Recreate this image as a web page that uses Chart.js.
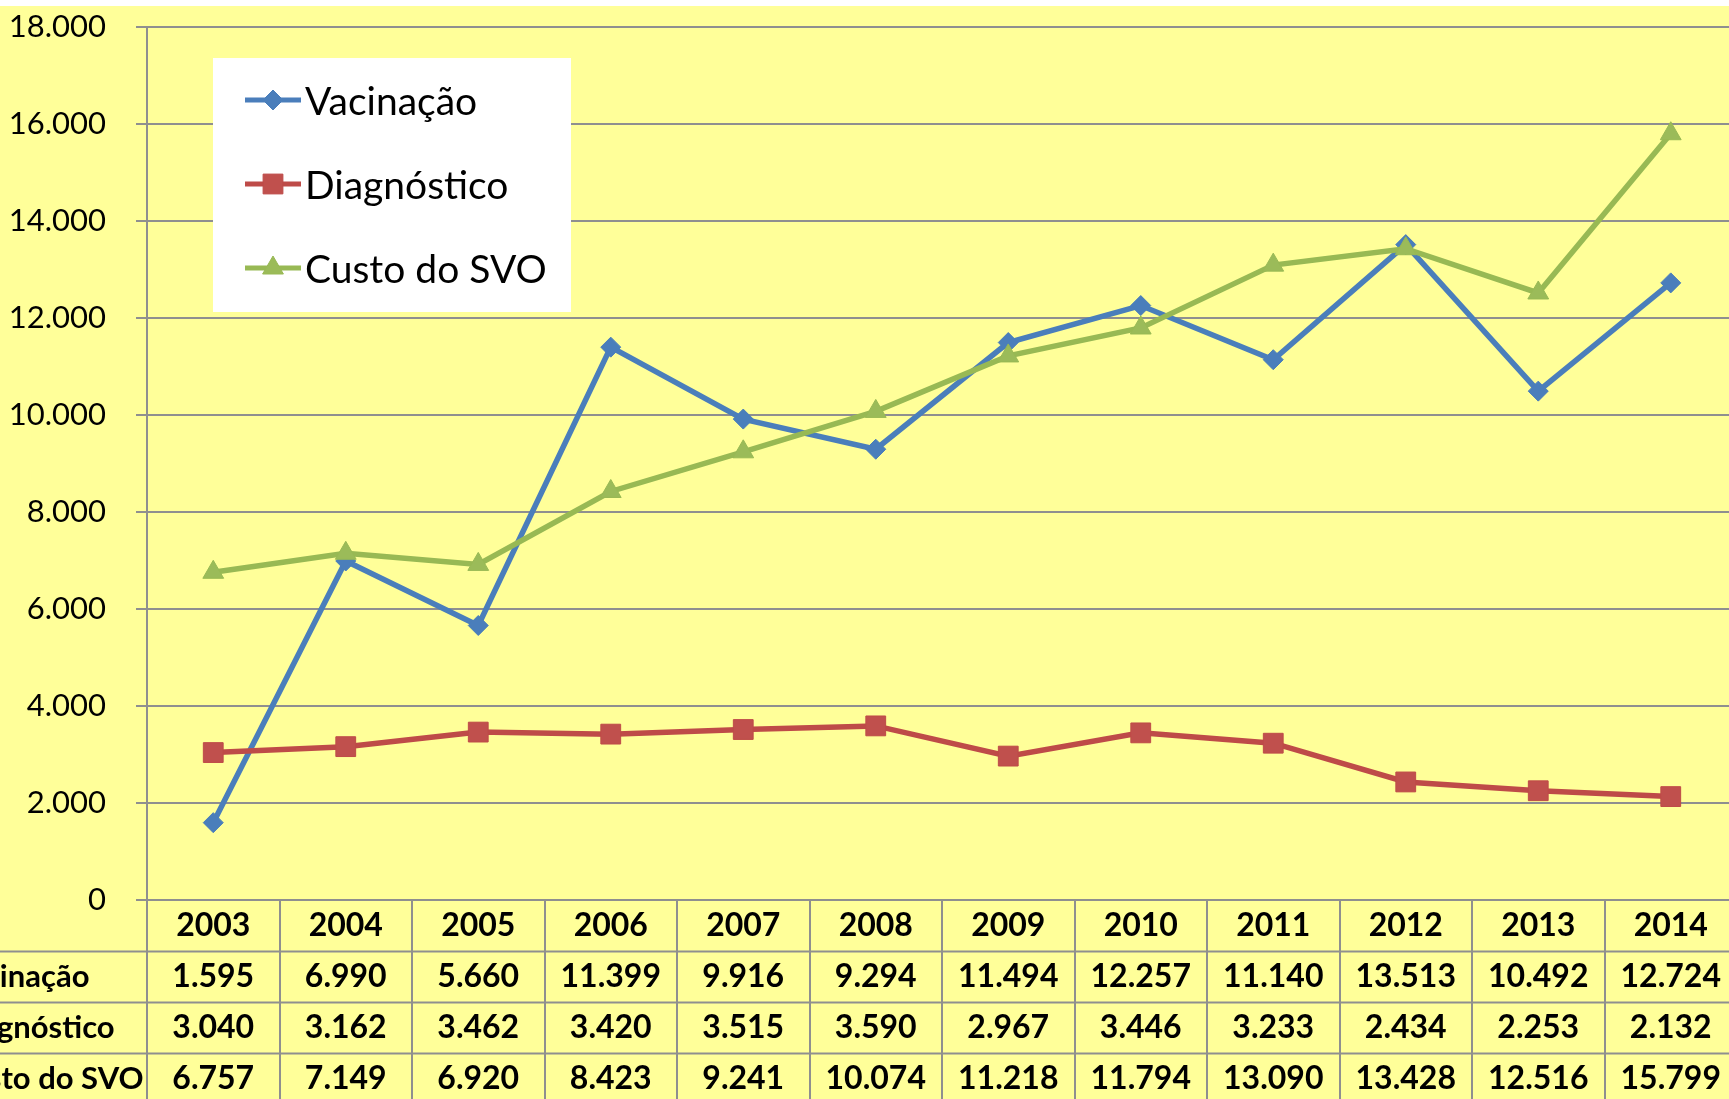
<!DOCTYPE html>
<html>
<head>
<meta charset="utf-8">
<script src="https://cdn.jsdelivr.net/npm/chart.js@4"></script>
<style>
  html, body { margin: 0; padding: 0; background: #fff; }
  #wrap { width: 1729px; height: 1099px; }
</style>
</head>
<body>
<div id="wrap"><canvas id="grafico" width="1729" height="1099"></canvas></div>
<script>
const anos = ['2003','2004','2005','2006','2007','2008','2009','2010','2011','2012','2013','2014'];
const vacinacao = [1595, 6990, 5660, 11399, 9916, 9294, 11494, 12257, 11140, 13513, 10492, 12724];
const diagnostico = [3040, 3162, 3462, 3420, 3515, 3590, 2967, 3446, 3233, 2434, 2253, 2132];
const custoSVO = [6757, 7149, 6920, 8423, 9241, 10074, 11218, 11794, 13090, 13428, 12516, 15799];
const yTicks = [0, 2000, 4000, 6000, 8000, 10000, 12000, 14000, 16000, 18000];

const FONTE = 'Lato, "Open Sans", sans-serif';
const GRADE = '#8f8f8f';

function fmt(v) {
  return String(v).replace(/\B(?=(\d{3})+(?!\d))/g, '.');
}

// fundo amarelo com a faixa branca no topo
const fundo = {
  id: 'fundo',
  beforeDraw(chart) {
    const c = chart.ctx;
    c.save();
    c.fillStyle = '#ffffff';
    c.fillRect(0, 0, chart.width, chart.height);
    c.fillStyle = '#ffff99';
    c.fillRect(0, 6, chart.width, chart.height - 6);
    c.restore();
  }
};

// a area do grafico passa um pouco da borda direita (como no original)
const ajuste = {
  id: 'ajuste',
  afterLayout(chart) {
    const x = chart.scales.x, y = chart.scales.y;
    const a = chart.chartArea;
    const right = 1737, top = 27;
    a.right = right;
    a.width = right - a.left;
    x.right = right;
    x.width = right - x.left;
    x.configure();
    a.top = top;
    a.height = a.bottom - top;
    y.top = top;
    y.height = y.bottom - top;
    y.configure();
  }
};

// tabela de dados abaixo do eixo x + legenda
const tabela = {
  id: 'tabela',
  afterDraw(chart) {
    const c = chart.ctx;
    const x = chart.scales.x;
    const area = chart.chartArea;
    const top = area.bottom;
    const rowH = 51;
    c.save();
    c.strokeStyle = GRADE;
    c.lineWidth = 2;
    // linhas horizontais
    for (let r = 1; r <= 3; r++) {
      const y = Math.round(top + rowH * r) + 0.5;
      c.beginPath(); c.moveTo(0, y); c.lineTo(chart.width, y); c.stroke();
    }
    // linhas verticais
    const w = x.getPixelForValue(1) - x.getPixelForValue(0);
    for (let i = 0; i <= anos.length; i++) {
      const xx = Math.round(x.getPixelForValue(i) - w / 2);
      c.beginPath(); c.moveTo(xx, top); c.lineTo(xx, chart.height); c.stroke();
    }
    // valores
    c.fillStyle = '#000';
    c.textBaseline = 'middle';
    chart.data.datasets.forEach((ds, r) => {
      const y = top + rowH * (r + 1) + rowH / 2;
      c.font = 'bold 31px ' + FONTE;
      c.textAlign = 'left';
      c.fillText(ds.label, -50, y);
      c.font = 'bold 32px ' + FONTE;
      c.textAlign = 'center';
      ds.data.forEach((v, i) => {
        c.fillText(fmt(v), x.getPixelForValue(i), y);
      });
    });

    // legenda
    const lx = 213, ly = 58, lw = 358, lh = 254;
    c.fillStyle = '#ffffff';
    c.fillRect(lx, ly, lw, lh);
    const rowsY = [100, 184, 268];
    c.font = '39px ' + FONTE;
    c.textAlign = 'left';
    chart.data.datasets.forEach((ds, r) => {
      const y = rowsY[r];
      c.strokeStyle = ds.borderColor;
      c.lineWidth = 5;
      c.beginPath(); c.moveTo(245, y); c.lineTo(301, y); c.stroke();
      c.fillStyle = ds.backgroundColor;
      c.lineWidth = 1;
      Chart.helpers.drawPoint(c, {
        pointStyle: ds.pointStyle, radius: ds.pointRadius, rotation: 0, borderWidth: 1
      }, 273, y);
      c.fillStyle = '#000';
      c.fillText(ds.label, 305, y + 2);
    });
    c.restore();
  }
};

new Chart(document.getElementById('grafico'), {
  type: 'line',
  plugins: [fundo, ajuste, tabela],
  data: {
    labels: anos,
    datasets: [
      {
        label: 'Vacinação', data: vacinacao, order: 3,
        borderColor: '#4a7ebb', backgroundColor: '#4a7ebb',
        borderWidth: 5.5, pointStyle: 'rectRot', pointRadius: 10, pointBorderWidth: 1
      },
      {
        label: 'Diagnóstico', data: diagnostico, order: 2,
        borderColor: '#be4b48', backgroundColor: '#c0504d',
        borderWidth: 5.5, pointStyle: 'rect', pointRadius: 14, pointBorderWidth: 1
      },
      {
        label: 'Custo do SVO', data: custoSVO, order: 1,
        borderColor: '#98b954', backgroundColor: '#9bbb59',
        borderWidth: 5.5, pointStyle: 'triangle', pointRadius: 12, pointBorderWidth: 1
      }
    ]
  },
  options: {
    responsive: false,
    animation: false,
    devicePixelRatio: 1,
    layout: { padding: { top: 5, right: 0, left: 0, bottom: 0 } },
    plugins: {
      legend: { display: false },
      tooltip: { enabled: false }
    },
    scales: {
      x: {
        offset: true,
        grid: { display: false },
        border: { display: true, color: GRADE, width: 2 },
        ticks: {
          color: '#000', padding: -2,
          font: { family: FONTE, size: 32, weight: 'bold' }
        },
        afterFit(s) { s.height = 199; }
      },
      y: {
        min: 0, max: 18000,
        afterBuildTicks(s) { s.ticks = yTicks.map(v => ({ value: v })); },
        grid: { color: GRADE, lineWidth: 2, tickLength: 11 },
        border: { display: true, color: GRADE, width: 2 },
        ticks: {
          color: '#000', padding: 30,
          font: { family: FONTE, size: 31 },
          callback: v => fmt(v)
        },
        afterFit(s) { s.width = 147; }
      }
    }
  }
});
</script>
</body>
</html>
